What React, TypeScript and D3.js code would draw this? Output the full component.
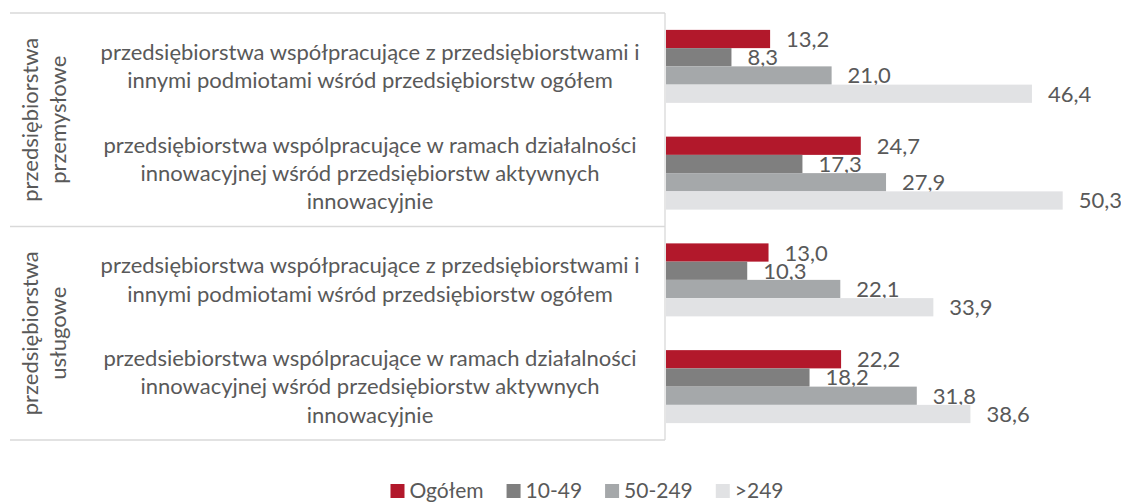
import React from "react";
import * as d3 from "d3";

const categoryLines: string[][] = [
  ["przedsiębiorstwa współpracujące z przedsiębiorstwami i", "innymi podmiotami wśród przedsiębiorstw ogółem"],
  ["przedsiębiorstwa wspólpracujące w ramach działalności", "innowacyjnej wśród przedsiębiorstw aktywnych", "innowacyjnie"],
  ["przedsiębiorstwa współpracujące z przedsiębiorstwami i", "innymi podmiotami wśród przedsiębiorstw ogółem"],
  ["przedsiebiorstwa wspólpracujące w ramach działalności", "innowacyjnej wśród przedsiębiorstw aktywnych", "innowacyjnie"],
];
const categoryKeys = ["c1", "c2", "c3", "c4"];
const groupLines: string[][] = [
  ["przedsiębiorstwa", "przemysłowe"],
  ["przedsiębiorstwa", "usługowe"],
];
const seriesNames = ["Ogółem", "10-49", "50-249", ">249"];
const ogolem = [13.2, 24.7, 13.0, 22.2];
const s10_49 = [8.3, 17.3, 10.3, 18.2];
const s50_249 = [21.0, 27.9, 22.1, 31.8];
const s249 = [46.4, 50.3, 33.9, 38.6];
const seriesValues = [ogolem, s10_49, s50_249, s249];
const colors = ["#B2182B", "#7F7F7F", "#A5A8AA", "#E1E2E4"];

const W = 1121;
const H = 502;
const FONT = "Lato, 'Open Sans', sans-serif";
const TEXT = "#595959";
const LINE = "#D9D9D9";

export default function App() {
  const top = 13;
  const bottom = 440;
  const axisX = 665;
  const leftX = 10;
  const y0 = d3.scaleBand<string>().domain(categoryKeys).range([top, bottom]).paddingInner(0.3164).paddingOuter(0.1582);
  const y1 = d3.scaleBand<string>().domain(seriesNames).range([0, y0.bandwidth()]);
  const x = d3.scaleLinear().domain([0, 50.3]).range([axisX + 1, 1062.7]);
  const step = (bottom - top) / categoryKeys.length;
  const lineH = 28.3;
  const fs = 22;

  const legendFs = 21;
  const sq = 14;
  let widths: number[] = seriesNames.map((s) => s.length * 10);
  if (typeof document !== "undefined") {
    const ctx = document.createElement("canvas").getContext("2d");
    if (ctx) {
      ctx.font = `${legendFs}px Lato`;
      widths = seriesNames.map((s) => ctx.measureText(s).width);
    }
  }
  const itemW = widths.map((w) => sq + 5 + w);
  const gap = 23;
  const totalW = d3.sum(itemW) + gap * (seriesNames.length - 1);
  const legendX0 = 587 - totalW / 2;
  const legendStarts = itemW.map((_, i) => legendX0 + d3.sum(itemW.slice(0, i)) + gap * i);
  const legendY = 491;

  return (
    <svg width={W} height={H} style={{ position: "absolute", left: 0, top: 0, fontFamily: FONT }}>
      <rect width={W} height={H} fill="#fff" />
      {[0, 2, 4].map((k) => (
        <line key={k} x1={leftX} x2={axisX} y1={top + k * step} y2={top + k * step} stroke={LINE} strokeWidth={1.3} />
      ))}
      <line x1={axisX} x2={axisX} y1={top} y2={bottom} stroke={LINE} strokeWidth={1.3} />

      {groupLines.map((lines, g) => {
        const cy = top + step * (2 * g + 1);
        const cx = 44;
        return (
          <text key={g} transform={`translate(${cx},${cy}) rotate(-90)`} textAnchor="middle" fill={TEXT} fontSize={fs}>
            {lines.map((l, i) => (
              <tspan key={i} x={0} y={(i - (lines.length - 1) / 2) * lineH} dy="0.35em">
                {l}
              </tspan>
            ))}
          </text>
        );
      })}

      {categoryKeys.map((k, ci) => {
        const lines = categoryLines[ci];
        const cy = (y0(k) as number) + y0.bandwidth() / 2;
        return (
          <text key={k} textAnchor="middle" fill={TEXT} fontSize={fs}>
            {lines.map((l, i) => (
              <tspan key={i} x={370} y={cy + (i - (lines.length - 1) / 2) * lineH} dy="0.35em">
                {l}
              </tspan>
            ))}
          </text>
        );
      })}

      {categoryKeys.map((k, ci) => (
        <g key={k} transform={`translate(0,${y0(k)})`}>
          {seriesNames.map((s, si) => {
            const v = seriesValues[si][ci];
            const yy = y1(s) as number;
            return (
              <g key={s}>
                <rect x={x(0)} y={yy} width={x(v) - x(0)} height={y1.bandwidth()} fill={colors[si]} />
                <text x={x(v) + 16} y={yy + y1.bandwidth() / 2 + 8} fill={TEXT} fontSize={fs}>
                  {v.toFixed(1).replace(".", ",")}
                </text>
              </g>
            );
          })}
        </g>
      ))}

      {seriesNames.map((s, i) => (
        <g key={s} transform={`translate(${legendStarts[i]},${legendY})`}>
          <rect x={0} y={-sq / 2} width={sq} height={sq} fill={colors[i]} />
          <text x={sq + 5} y={0} dy="0.35em" fill={TEXT} fontSize={legendFs}>
            {s}
          </text>
        </g>
      ))}
    </svg>
  );
}
